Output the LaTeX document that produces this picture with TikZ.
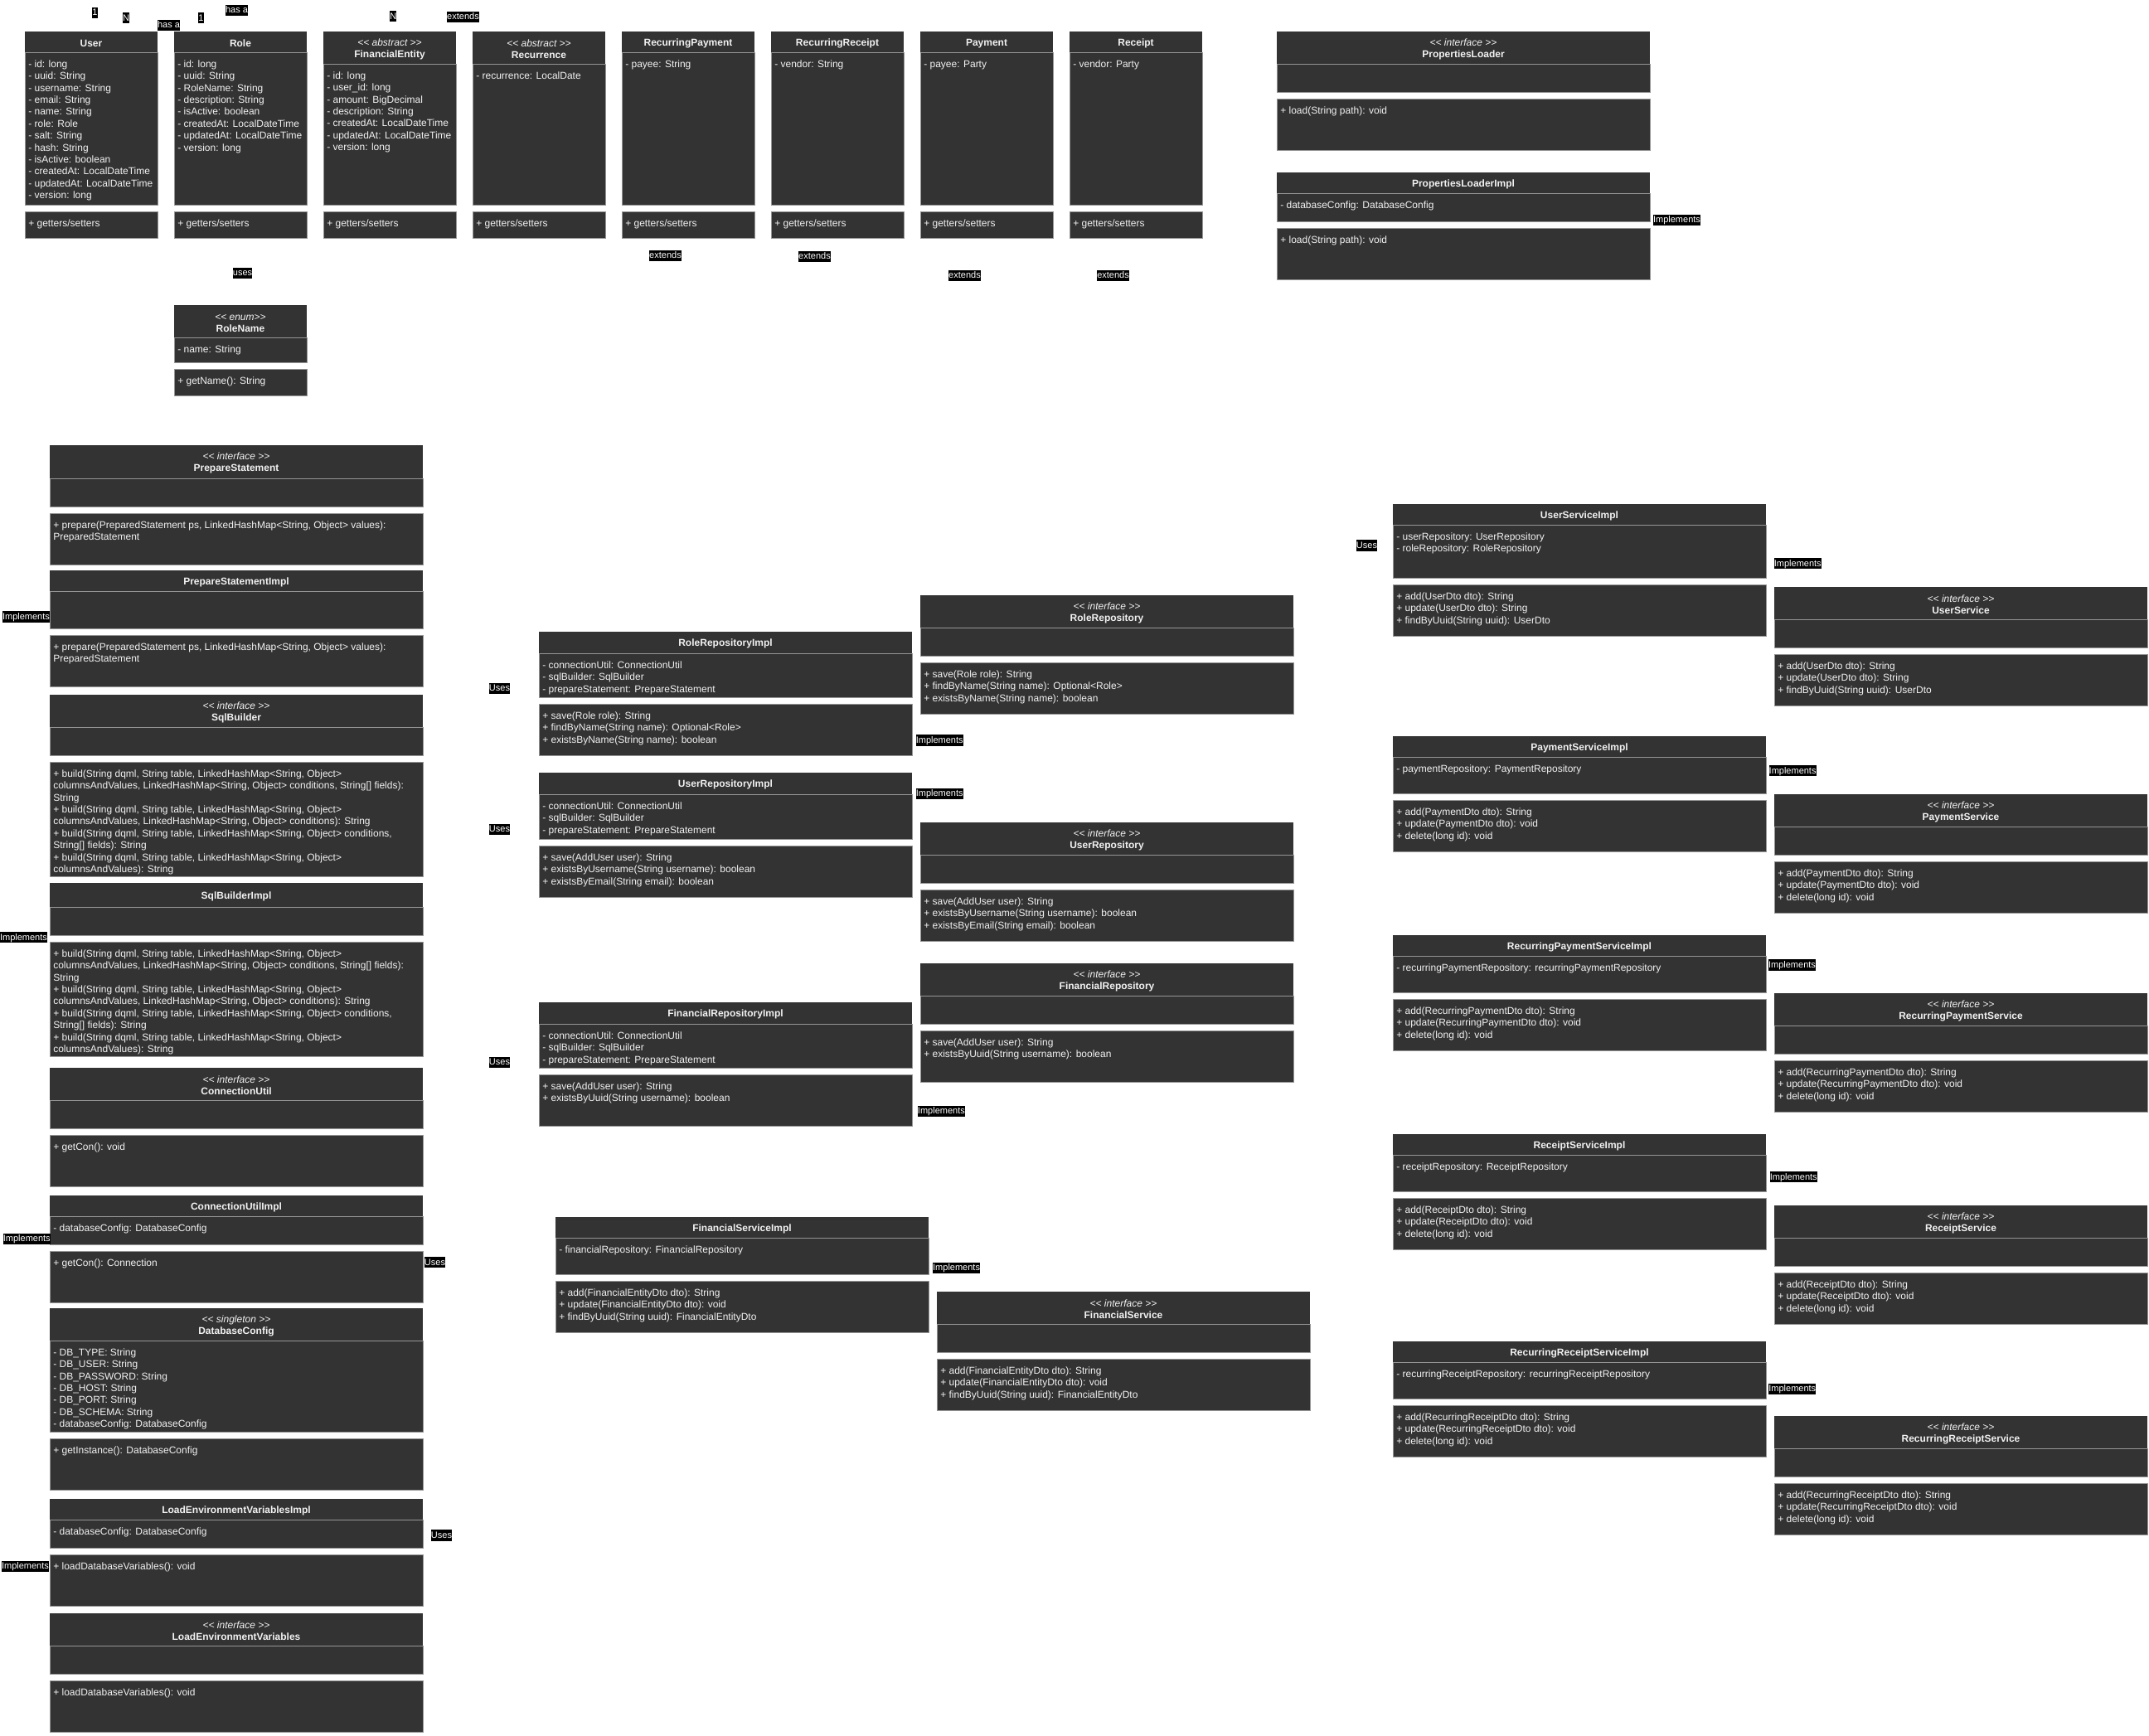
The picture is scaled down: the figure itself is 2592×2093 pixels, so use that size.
\documentclass[tikz,border=0pt]{standalone}
\usepackage{fontspec}
\setmainfont{Liberation Sans}

\definecolor{umlfill}{HTML}{333333}
\definecolor{umlline}{HTML}{959595}
\definecolor{umltext}{HTML}{F2F2F2}

\tikzset{
  classhead/.style={anchor=north west, fill=umlfill, inner sep=0pt, outer sep=0pt, align=center, text=umltext, font=\fontsize{9}{10.8}\selectfont\bfseries},
  classpart/.style={anchor=north west, fill=umlfill, draw=umlline, line width=0.75pt, inner sep=0pt, outer sep=0pt},
  classtext/.style={anchor=north west, inner sep=0pt, align=left, text=umltext, font=\fontsize{9}{10.8}\selectfont},
  edgelabel/.style={fill=black, text=white, inner xsep=0pt, inner ysep=0.6pt, text height=6.9pt, text depth=1.9pt, font=\fontsize{8.25}{9.9}\selectfont},
}

% stereotype line of a class header
\newcommand{\stereo}[1]{{\normalfont\itshape #1}\\}
% name, x/y, width, header h, attribute h, operation h, title, attributes, operations
\newcommand{\umlclass}[9]{
  \node[classhead, minimum width=#3*0.75pt, minimum height=#4*0.75pt] (#1) at (#2) {\rule{0pt}{9pt}#7};
  \node[classpart, minimum width=#3*0.75pt, minimum height=#5*0.75pt] (#1-attr) at (#1.south west) {};
  \node[classpart, minimum width=#3*0.75pt, minimum height=#6*0.75pt] (#1-ops) at ([yshift=-6pt]#1-attr.south west) {};
  \node[classtext] (#1-attrlist) at ([shift={(3pt,-5.5pt)}]#1-attr.north west) {\rule{0pt}{8pt}#8};
  \node[classtext] (#1-oplist) at ([shift={(3pt,-5.5pt)}]#1-ops.north west) {\rule{0pt}{8pt}#9};
}

\begin{document}
\begin{tikzpicture}[x=0.75pt, y=-0.75pt]
\fill[white] (0,0) rectangle (2592,2093);
\useasboundingbox (0,0) rectangle (2592,2093);

% entities
\umlclass{user}{30,38}{160}{25}{184}{32}{User}{- id: long\\- uuid: String\\- username: String\\- email: String\\- name: String\\- role: Role\\- salt: String\\- hash: String\\- isActive: boolean\\- createdAt: LocalDateTime\\- updatedAt: LocalDateTime\\- version: long}{+ getters/setters}
\umlclass{role}{210,38}{160}{25}{184}{32}{Role}{- id: long\\- uuid: String\\- RoleName: String\\- description: String\\- isActive: boolean\\- createdAt: LocalDateTime\\- updatedAt: LocalDateTime\\- version: long}{+ getters/setters}
\umlclass{financialentity}{390,38}{160}{39}{170}{32}{\stereo{<{}< abstract >{}>}FinancialEntity}{- id: long\\- user\_id: long\\- amount: BigDecimal\\- description: String\\- createdAt: LocalDateTime\\- updatedAt: LocalDateTime\\- version: long}{+ getters/setters}
\umlclass{recurrence}{570,38}{160}{39}{170}{32}{\stereo{<{}< abstract >{}>}Recurrence}{- recurrence: LocalDate}{+ getters/setters}
\umlclass{recpayment}{750,38}{160}{25}{184}{32}{RecurringPayment}{- payee: String}{+ getters/setters}
\umlclass{recreceipt}{930,38}{160}{25}{184}{32}{RecurringReceipt}{- vendor: String}{+ getters/setters}
\umlclass{payment}{1110,38}{160}{25}{184}{32}{Payment}{- payee: Party}{+ getters/setters}
\umlclass{receipt}{1290,38}{160}{25}{184}{32}{Receipt}{- vendor: Party}{+ getters/setters}
\umlclass{rolename}{210,368}{160}{39}{30}{32}{\stereo{<{}< enum>{}>}RoleName}{- name: String}{+ getName(): String}

% properties
\umlclass{propsloader}{1540,38}{450}{39}{34}{62}{\stereo{<{}< interface >{}>}PropertiesLoader}{}{+ load(String path): void}
\umlclass{propsloaderimpl}{1540,208}{450}{25}{34}{62}{PropertiesLoaderImpl}{- databaseConfig: DatabaseConfig}{+ load(String path): void}

% database utilities
\umlclass{preparestmt}{60,537}{450}{40}{34}{62}{\stereo{<{}< interface >{}>}PrepareStatement}{}{+ prepare(PreparedStatement ps, LinkedHashMap<String, Object> values):\\PreparedStatement}
\umlclass{preparestmtimpl}{60,688}{450}{25}{45}{62}{PrepareStatementImpl}{}{+ prepare(PreparedStatement ps, LinkedHashMap<String, Object> values):\\PreparedStatement}
\umlclass{sqlbuilder}{60,838}{450}{39}{34}{138}{\stereo{<{}< interface >{}>}SqlBuilder}{}{+ build(String dqml, String table, LinkedHashMap<String, Object>\\columnsAndValues, LinkedHashMap<String, Object> conditions, String[] fields):\\String\\+ build(String dqml, String table, LinkedHashMap<String, Object>\\columnsAndValues, LinkedHashMap<String, Object> conditions): String\\+ build(String dqml, String table, LinkedHashMap<String, Object> conditions,\\String[] fields): String\\+ build(String dqml, String table, LinkedHashMap<String, Object>\\columnsAndValues): String}
\umlclass{sqlbuilderimpl}{60,1065}{450}{29}{34}{138}{SqlBuilderImpl}{}{+ build(String dqml, String table, LinkedHashMap<String, Object>\\columnsAndValues, LinkedHashMap<String, Object> conditions, String[] fields):\\String\\+ build(String dqml, String table, LinkedHashMap<String, Object>\\columnsAndValues, LinkedHashMap<String, Object> conditions): String\\+ build(String dqml, String table, LinkedHashMap<String, Object> conditions,\\String[] fields): String\\+ build(String dqml, String table, LinkedHashMap<String, Object>\\columnsAndValues): String}
\umlclass{connutil}{60,1288}{450}{39}{34}{62}{\stereo{<{}< interface >{}>}ConnectionUtil}{}{+ getCon(): void}
\umlclass{connutilimpl}{60,1442}{450}{25}{34}{62}{ConnectionUtilImpl}{- databaseConfig: DatabaseConfig}{+ getCon(): Connection}
\umlclass{dbconfig}{60,1578}{450}{39}{110}{62}{\stereo{<{}< singleton >{}>}DatabaseConfig}{- DB\_TYPE: String\\- DB\_USER: String\\- DB\_PASSWORD: String\\- DB\_HOST: String\\- DB\_PORT: String\\- DB\_SCHEMA: String\\- databaseConfig: DatabaseConfig}{+ getInstance(): DatabaseConfig}
\umlclass{loadenvimpl}{60,1808}{450}{25}{34}{62}{LoadEnvironmentVariablesImpl}{- databaseConfig: DatabaseConfig}{+ loadDatabaseVariables(): void}
\umlclass{loadenv}{60,1946}{450}{39}{34}{62}{\stereo{<{}< interface >{}>}LoadEnvironmentVariables}{}{+ loadDatabaseVariables(): void}

% repositories
\umlclass{rolerepoimpl}{650,762}{450}{26}{53}{62}{RoleRepositoryImpl}{- connectionUtil: ConnectionUtil\\- sqlBuilder: SqlBuilder\\- prepareStatement: PrepareStatement}{+ save(Role role): String\\+ findByName(String name): Optional<Role>\\+ existsByName(String name): boolean}
\umlclass{rolerepo}{1110,718}{450}{39}{34}{62}{\stereo{<{}< interface >{}>}RoleRepository}{}{+ save(Role role): String\\+ findByName(String name): Optional<Role>\\+ existsByName(String name): boolean}
\umlclass{userrepoimpl}{650,932}{450}{26}{54}{62}{UserRepositoryImpl}{- connectionUtil: ConnectionUtil\\- sqlBuilder: SqlBuilder\\- prepareStatement: PrepareStatement}{+ save(AddUser user): String\\+ existsByUsername(String username): boolean\\+ existsByEmail(String email): boolean}
\umlclass{userrepo}{1110,992}{450}{39}{34}{62}{\stereo{<{}< interface >{}>}UserRepository}{}{+ save(AddUser user): String\\+ existsByUsername(String username): boolean\\+ existsByEmail(String email): boolean}
\umlclass{finrepo}{1110,1162}{450}{39}{34}{62}{\stereo{<{}< interface >{}>}FinancialRepository}{}{+ save(AddUser user): String\\+ existsByUuid(String username): boolean}
\umlclass{finrepoimpl}{650,1209}{450}{26}{53}{62}{FinancialRepositoryImpl}{- connectionUtil: ConnectionUtil\\- sqlBuilder: SqlBuilder\\- prepareStatement: PrepareStatement}{+ save(AddUser user): String\\+ existsByUuid(String username): boolean}

% services
\umlclass{finserviceimpl}{670,1468}{450}{25}{44}{62}{FinancialServiceImpl}{- financialRepository: FinancialRepository}{+ add(FinancialEntityDto dto): String\\+ update(FinancialEntityDto dto): void\\+ findByUuid(String uuid): FinancialEntityDto}
\umlclass{finservice}{1130,1558}{450}{39}{34}{62}{\stereo{<{}< interface >{}>}FinancialService}{}{+ add(FinancialEntityDto dto): String\\+ update(FinancialEntityDto dto): void\\+ findByUuid(String uuid): FinancialEntityDto}
\umlclass{userserviceimpl}{1680,608}{450}{25}{64}{62}{UserServiceImpl}{- userRepository: UserRepository\\- roleRepository: RoleRepository}{+ add(UserDto dto): String\\+ update(UserDto dto): String\\+ findByUuid(String uuid): UserDto}
\umlclass{userservice}{2140,708}{450}{39}{34}{62}{\stereo{<{}< interface >{}>}UserService}{}{+ add(UserDto dto): String\\+ update(UserDto dto): String\\+ findByUuid(String uuid): UserDto}
\umlclass{payserviceimpl}{1680,888}{450}{25}{44}{62}{PaymentServiceImpl}{- paymentRepository: PaymentRepository}{+ add(PaymentDto dto): String\\+ update(PaymentDto dto): void\\+ delete(long id): void}
\umlclass{payservice}{2140,958}{450}{39}{34}{62}{\stereo{<{}< interface >{}>}PaymentService}{}{+ add(PaymentDto dto): String\\+ update(PaymentDto dto): void\\+ delete(long id): void}
\umlclass{recpayserviceimpl}{1680,1128}{450}{25}{44}{62}{RecurringPaymentServiceImpl}{- recurringPaymentRepository: recurringPaymentRepository}{+ add(RecurringPaymentDto dto): String\\+ update(RecurringPaymentDto dto): void\\+ delete(long id): void}
\umlclass{recpayservice}{2140,1198}{450}{39}{34}{62}{\stereo{<{}< interface >{}>}RecurringPaymentService}{}{+ add(RecurringPaymentDto dto): String\\+ update(RecurringPaymentDto dto): void\\+ delete(long id): void}
\umlclass{receiptserviceimpl}{1680,1368}{450}{25}{44}{62}{ReceiptServiceImpl}{- receiptRepository: ReceiptRepository}{+ add(ReceiptDto dto): String\\+ update(ReceiptDto dto): void\\+ delete(long id): void}
\umlclass{receiptservice}{2140,1454}{450}{39}{34}{62}{\stereo{<{}< interface >{}>}ReceiptService}{}{+ add(ReceiptDto dto): String\\+ update(ReceiptDto dto): void\\+ delete(long id): void}
\umlclass{recrecserviceimpl}{1680,1618}{450}{25}{44}{62}{RecurringReceiptServiceImpl}{- recurringReceiptRepository: recurringReceiptRepository}{+ add(RecurringReceiptDto dto): String\\+ update(RecurringReceiptDto dto): void\\+ delete(long id): void}
\umlclass{recrecservice}{2140,1708}{450}{39}{34}{62}{\stereo{<{}< interface >{}>}RecurringReceiptService}{}{+ add(RecurringReceiptDto dto): String\\+ update(RecurringReceiptDto dto): void\\+ delete(long id): void}

% relation labels
\node[edgelabel] (user-one) at (114.5,15.6) {1};
\node[edgelabel] (role-many) at (152,21.7) {N};
\node[edgelabel] (user-hasa) at (203.5,30.5) {has a};
\node[edgelabel] (role-one) at (242.5,21.7) {1};
\node[edgelabel] (role-hasa) at (285.5,12.5) {has a};
\node[edgelabel] (fin-many) at (474.3,19.7) {N};
\node[edgelabel] (fin-extends) at (558.5,20.3) {extends};
\node[edgelabel] (rolename-uses) at (292.5,329.3) {uses};
\node[edgelabel] (recpayment-extends) at (802.5,308.5) {extends};
\node[edgelabel] (recreceipt-extends) at (982.5,309.5) {extends};
\node[edgelabel] (payment-extends) at (1163.5,332.5) {extends};
\node[edgelabel] (receipt-extends) at (1342.5,332.5) {extends};
\node[edgelabel] (propsloader-impl) at (2022.5,265.5) {Implements};
\node[edgelabel] (preparestmt-impl) at (31.5,744) {Implements};
\node[edgelabel] (sqlbuilder-impl) at (28.5,1130.7) {Implements};
\node[edgelabel] (connutil-impl) at (32.3,1494.5) {Implements};
\node[edgelabel] (connutil-uses) at (524.5,1522.8) {Uses};
\node[edgelabel] (loadenv-uses) at (532.5,1852) {Uses};
\node[edgelabel] (loadenv-impl) at (30.5,1889.5) {Implements};
\node[edgelabel] (rolerepo-uses) at (602.5,830.5) {Uses};
\node[edgelabel] (rolerepo-impl) at (1133.2,893) {Implements};
\node[edgelabel] (userrepo-uses) at (602.5,1000.5) {Uses};
\node[edgelabel] (userrepo-impl) at (1133.2,957.6) {Implements};
\node[edgelabel] (finrepo-uses) at (602.5,1281.5) {Uses};
\node[edgelabel] (finrepo-impl) at (1135.4,1340.5) {Implements};
\node[edgelabel] (finservice-impl) at (1153.6,1529.5) {Implements};
\node[edgelabel] (userservice-uses) at (1648.5,658) {Uses};
\node[edgelabel] (userservice-impl) at (2168.3,679.7) {Implements};
\node[edgelabel] (payservice-impl) at (2162.1,929.7) {Implements};
\node[edgelabel] (recpayservice-impl) at (2161.5,1163.9) {Implements};
\node[edgelabel] (receiptservice-impl) at (2163.3,1419.7) {Implements};
\node[edgelabel] (recrecservice-impl) at (2161.8,1675.2) {Implements};
\end{tikzpicture}
\end{document}
